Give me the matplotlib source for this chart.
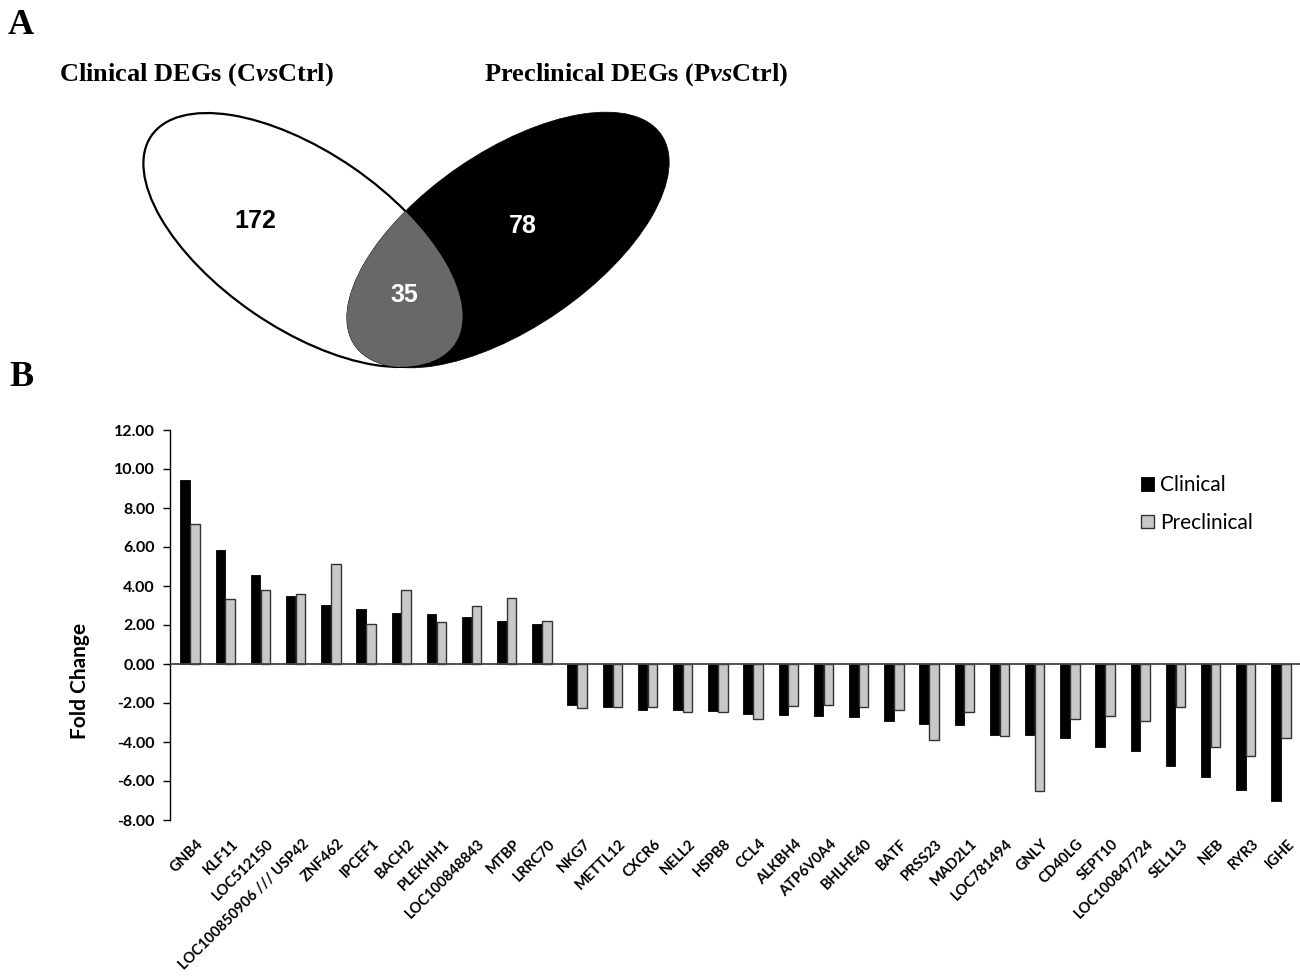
import matplotlib
matplotlib.use("Agg")
import matplotlib.pyplot as plt
from matplotlib.patches import Ellipse
from matplotlib.transforms import ScaledTranslation
import numpy as np

# Venn counts (panel A)
venn_titles = ["Clinical DEGs (C$\\mathit{vs}$Ctrl)", "Preclinical DEGs (P$\\mathit{vs}$Ctrl)"]
only_clinical = 172
shared = 35
only_preclinical = 78

# fold changes (panel B)
genes = ["GNB4", "KLF11", "LOC512150", "LOC100850906 /// USP42", "ZNF462", "IPCEF1",
         "BACH2", "PLEKHH1", "LOC100848843", "MTBP", "LRRC70", "NKG7", "METTL12",
         "CXCR6", "NELL2", "HSPB8", "CCL4", "ALKBH4", "ATP6V0A4", "BHLHE40", "BATF",
         "PRSS23", "MAD2L1", "LOC781494", "GNLY", "CD40LG", "SEPT10", "LOC100847724",
         "SEL1L3", "NEB", "RYR3", "IGHE"]
clinical = [9.46, 5.86, 4.57, 3.48, 3.02, 2.81, 2.62, 2.57, 2.42, 2.23, 2.03,
            -2.12, -2.20, -2.36, -2.36, -2.39, -2.55, -2.63, -2.65, -2.72, -2.92,
            -3.08, -3.11, -3.64, -3.64, -3.79, -4.26, -4.48, -5.21, -5.78, -6.46, -7.04]
preclinical = [7.16, 3.34, 3.78, 3.58, 5.11, 2.06, 3.78, 2.13, 2.98, 3.41, 2.20,
               -2.27, -2.22, -2.19, -2.44, -2.48, -2.84, -2.15, -2.09, -2.19, -2.36,
               -3.90, -2.48, -3.68, -6.50, -2.84, -2.68, -2.91, -2.22, -4.24, -4.74, -3.79]
yticks = [12, 10, 8, 6, 4, 2, 0, -2, -4, -6, -8]

plt.rcParams['mathtext.fontset'] = 'custom'
plt.rcParams['mathtext.it'] = 'Liberation Serif:italic:bold'
plt.rcParams['mathtext.rm'] = 'Liberation Serif:bold'

W, H = 1300, 976
fig = plt.figure(figsize=(13, 9.76), dpi=100)

# ---- panel A : venn, drawn in pixel coordinates ----
va = fig.add_axes([0, 0, 1, 1])
va.set_xlim(0, W)
va.set_ylim(H, 0)
va.axis('off')

left = Ellipse((303, 240), 2 * 184, 2 * 88, angle=34.5, facecolor='white',
               edgecolor='black', lw=1.6, zorder=1)
right = Ellipse((508, 240), 2 * 186, 2 * 88, angle=-34.5, facecolor='black',
                edgecolor='black', lw=0.5, zorder=2)
inter = Ellipse((303, 240), 2 * 184, 2 * 88, angle=34.5, facecolor='#686868',
                edgecolor='none', zorder=3)
va.add_patch(left)
va.add_patch(right)
va.add_patch(inter)
inter.set_clip_path(right)

num_kw = dict(ha='center', va='center', fontsize=18, fontweight='bold',
              family='Liberation Sans', zorder=5)
va.text(255, 221, str(only_clinical), color='black', **num_kw)
va.text(404, 295, str(shared), color='white', **num_kw)
va.text(523, 226, str(only_preclinical), color='white', **num_kw)

va.text(59, 75, venn_titles[0], ha='left', va='center', fontsize=19,
        fontweight='bold', family='Liberation Serif')
va.text(484, 75, venn_titles[1], ha='left', va='center', fontsize=19,
        fontweight='bold', family='Liberation Serif')
va.text(8, 25, "A", ha='left', va='center', fontsize=26, fontweight='bold',
        family='Liberation Serif')
va.text(9, 378, "B", ha='left', va='center', fontsize=26, fontweight='bold',
        family='Liberation Serif')

# ---- panel B : bar chart ----
ax = fig.add_axes([170 / W, 1 - 820 / H, 1 - 170 / W, (820 - 430) / H])
x = np.arange(len(genes))
bw = 0.27
ax.bar(x - 0.14, clinical, bw, color='black', edgecolor='black', lw=0.6,
       label='Clinical', zorder=2)
ax.bar(x + 0.14, preclinical, bw, color='#c8c8c8', edgecolor='#333333', lw=1.0,
       label='Preclinical', zorder=2)
ax.axhline(0, color='#444444', lw=1.3, zorder=3)

ax.set_xlim(-0.57, 31.54)
ax.set_ylim(-8, 12)
ax.set_yticks(yticks)
ax.set_yticklabels([f"{v:.2f}" for v in yticks], fontsize=11.5, fontweight='bold',
                   family='Lato')
ax.tick_params(axis='y', direction='out', length=5, width=1, pad=6)
ax.set_xticks(x)
ax.set_xticklabels(genes, rotation=45, ha='right', rotation_mode='anchor',
                   fontsize=10.5, fontweight='bold', family='Lato')
ax.tick_params(axis='x', length=0, pad=12)
shift = ScaledTranslation(6 / 100, 0, fig.dpi_scale_trans)
for lab in ax.get_xticklabels():
    lab.set_transform(lab.get_transform() + shift)
for s in ['top', 'right', 'bottom']:
    ax.spines[s].set_visible(False)
ax.spines['left'].set_linewidth(1)
ax.set_ylabel("Fold Change", fontsize=15, fontweight='bold', family='Lato')
ax.yaxis.set_label_coords((90 - 170) / 1130, (820 - 681) / 390)
ax.patch.set_alpha(0)

ax.legend(loc='upper left', bbox_to_anchor=(1131 / W, 1 - 465 / H),
          bbox_transform=fig.transFigure, frameon=False, borderpad=0,
          handlelength=0.6, handleheight=0.6, handletextpad=0.3,
          labelspacing=0.85, prop={'family': 'Lato', 'size': 15})

fig.savefig("out.png", dpi=100)
